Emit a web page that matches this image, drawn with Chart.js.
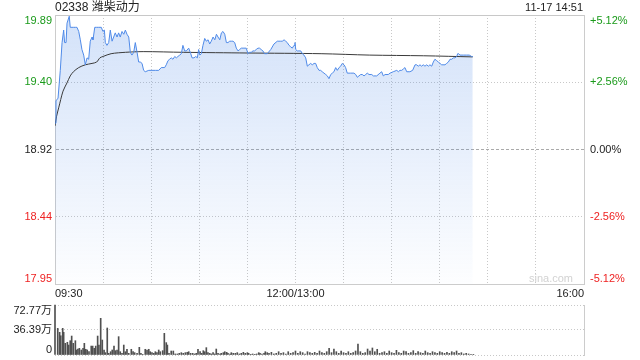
<!DOCTYPE html>
<html>
<head>
<meta charset="utf-8">
<script src="https://cdn.jsdelivr.net/npm/chart.js@4.4.1/dist/chart.umd.min.js"></script>
<style>
  body { margin: 0; background: #fff; width: 640px; height: 360px; overflow: hidden; position: relative;
         font-family: "Liberation Sans", Arial, "Noto Sans CJK SC", sans-serif; }
  #mainBox { position: absolute; left: 0; top: 0; width: 640px; height: 300px; }
  #volBox { position: absolute; left: 0; top: 300px; width: 640px; height: 60px; }
  #title { position: absolute; left: 55px; top: 0px; font-size: 12px; line-height: 14px; color: #222; }
  #stamp { position: absolute; right: 57px; top: 1px; font-size: 11px; line-height: 13px; color: #222; }
  #mark { position: absolute; right: 67px; top: 272px; font-size: 11px; color: #d2d2d2; }
</style>
</head>
<body>
<div id="mainBox"><canvas id="priceChart" width="640" height="300"></canvas></div>
<div id="volBox"><canvas id="volChart" width="640" height="60"></canvas></div>
<div id="title">02338 潍柴动力</div>
<div id="stamp">11-17 14:51</div>
<div id="mark">sina.com</div>
<script>
// minutes since 09:30 (lunch break squeezed out, 150 = 12:00/13:00, 330 = 16:00)
const preClose = 18.92;
const priceTicks = [17.9513, 18.4356, 18.92, 19.4044, 19.8887];
const leftTickLabels = ['17.95', '18.44', '18.92', '19.40', '19.89'];
const rightTickLabels = ['-5.12%', '-2.56%', '0.00%', '+2.56%', '+5.12%'];
const xGridTimes = [0, 30, 60, 90, 120, 150, 180, 210, 240, 270, 300, 330];
const xTickTimes = [0, 150, 330];
const xTickLabels = ['09:30', '12:00/13:00', '16:00'];

const priceTimes = [0, 0.6, 1.9, 3.3, 4.4, 5.4, 6.0, 6.9, 7.5, 8.9, 9.5, 10.6, 11.7, 12.7, 13.7, 14.8, 15.8, 16.8, 17.9, 18.9,
  20.0, 21.0, 22.0, 23.1, 23.7, 24.8, 25.8, 27.3, 28.9, 29.9, 30.8, 31.4, 32.4, 33.5, 34.5, 35.6, 36.6, 37.6, 38.7, 39.7,
  40.7, 41.8, 42.9, 43.9, 44.9, 46.0, 47.0, 48.0, 49.1, 50.1, 51.2, 52.2, 53.2, 54.3, 55.3, 56.3, 58.5, 60.5, 62.6, 64.7,
  66.3, 68.4, 69.4, 70.5, 71.5, 72.5, 73.6, 74.7, 75.7, 76.7, 77.8, 78.8, 79.8, 80.9, 81.9, 83.4, 84.7, 85.5, 86.7, 87.8,
  88.8, 89.6, 90.4, 91.3, 92.3, 93.4, 94.4, 95.5, 96.5, 97.5, 98.6, 99.7, 100.7, 101.7, 102.8, 103.8, 104.8, 105.9, 106.9, 107.9,
  109.0, 110.0, 111.0, 112.1, 113.1, 114.2, 115.2, 116.2, 117.3, 119.3, 120.4, 121.4, 122.4, 123.5, 124.5, 125.5, 126.6, 127.6, 128.6, 129.7,
  130.7, 132.4, 134.6, 136.6, 138.7, 139.7, 140.8, 141.8, 142.9, 143.9, 144.9, 146.0, 147.0, 148.0, 149.1, 149.7, 150.2, 151.1, 152.2, 153.3,
  154.3, 155.3, 156.4, 157.4, 158.4, 159.5, 160.5, 161.6, 162.6, 163.6, 164.7, 165.7, 166.7, 167.8, 168.9, 169.9, 170.9, 172.0, 173.0, 174.0,
  175.1, 176.1, 177.2, 178.2, 179.2, 180.3, 181.3, 182.3, 184.5, 186.5, 187.6, 188.6, 189.6, 190.7, 191.7, 192.8, 193.8, 194.8, 195.9, 197.6,
  198.6, 200.7, 202.7, 203.8, 204.8, 205.9, 207.9, 209.0, 211.0, 213.2, 214.2, 215.2, 216.3, 217.3, 218.3, 219.4, 221.4, 223.1, 224.6, 225.6,
  226.6, 227.7, 228.7, 229.7, 230.8, 231.9, 232.9, 233.9, 235.0, 236.0, 237.0, 238.1, 239.1, 240.2, 241.2, 243.3, 244.3, 245.4, 246.4, 247.5,
  248.5, 249.5, 250.6, 251.2, 251.8, 252.6, 254.7, 256.8, 258.4, 259.9, 260.6];
const prices = [19.11, 19.27, 19.29, 19.49, 19.69, 19.78, 19.69, 19.69, 19.83, 19.88, 19.80, 19.80, 19.80, 19.80, 19.80, 19.77, 19.71, 19.64, 19.60, 19.53,
  19.58, 19.57, 19.70, 19.73, 19.71, 19.80, 19.80, 19.80, 19.80, 19.77, 19.78, 19.69, 19.67, 19.69, 19.78, 19.70, 19.73, 19.76, 19.73, 19.76,
  19.73, 19.77, 19.75, 19.78, 19.75, 19.73, 19.62, 19.60, 19.62, 19.69, 19.62, 19.55, 19.55, 19.54, 19.49, 19.48, 19.49, 19.49, 19.49, 19.49,
  19.51, 19.51, 19.53, 19.56, 19.57, 19.58, 19.57, 19.59, 19.58, 19.59, 19.60, 19.61, 19.67, 19.63, 19.63, 19.65, 19.61, 19.58, 19.58, 19.59,
  19.58, 19.64, 19.60, 19.61, 19.67, 19.72, 19.70, 19.71, 19.68, 19.70, 19.73, 19.71, 19.75, 19.73, 19.71, 19.76, 19.77, 19.75, 19.69, 19.69,
  19.70, 19.70, 19.70, 19.69, 19.65, 19.63, 19.64, 19.65, 19.65, 19.65, 19.61, 19.62, 19.62, 19.63, 19.63, 19.64, 19.65, 19.65, 19.64, 19.63,
  19.61, 19.61, 19.64, 19.68, 19.70, 19.70, 19.70, 19.70, 19.71, 19.70, 19.69, 19.67, 19.66, 19.65, 19.67, 19.69, 19.64, 19.63, 19.63, 19.63,
  19.61, 19.60, 19.58, 19.52, 19.53, 19.54, 19.53, 19.54, 19.54, 19.51, 19.49, 19.49, 19.48, 19.47, 19.46, 19.45, 19.43, 19.46, 19.47, 19.48,
  19.51, 19.49, 19.51, 19.52, 19.54, 19.53, 19.51, 19.47, 19.47, 19.47, 19.46, 19.44, 19.45, 19.46, 19.46, 19.45, 19.46, 19.47, 19.46, 19.46,
  19.45, 19.45, 19.47, 19.48, 19.45, 19.46, 19.46, 19.47, 19.48, 19.49, 19.48, 19.49, 19.49, 19.50, 19.51, 19.48, 19.48, 19.49, 19.53, 19.53,
  19.52, 19.53, 19.52, 19.53, 19.52, 19.53, 19.52, 19.53, 19.52, 19.55, 19.57, 19.56, 19.55, 19.54, 19.53, 19.53, 19.54, 19.55, 19.57, 19.57,
  19.58, 19.58, 19.59, 19.61, 19.61, 19.60, 19.60, 19.60, 19.60, 19.59, 19.59];

const avgTimes = [0, 1, 2.3, 5, 7.5, 9.5, 11.5, 14.8, 18.9, 23.1, 26, 28, 30, 35, 44, 55, 80, 120, 166, 196, 230, 260.6];
const avgPrices = [19.09, 19.16, 19.22, 19.34, 19.40, 19.45, 19.48, 19.51, 19.53, 19.54, 19.55, 19.58, 19.59, 19.61, 19.62, 19.625,
  19.62, 19.615, 19.61, 19.60, 19.595, 19.587];

// volume, in 万 shares
const volTicks = [0, 36.39, 72.77];
const volTickLabels = ['0', '36.39万', '72.77万'];
const volTimes = [0, 1.7, 2.9, 3.6, 4.8, 5.4, 6.4, 7.7, 8.5, 9.5, 10.4, 11.4, 12.7, 13.3, 14.3, 15.2, 16.4, 17.5, 18.3, 19.2,
  20.1, 21.2, 22.6, 23.5, 24.5, 25.4, 26.6, 27.4, 28.5, 29.5, 30.6, 31.4, 32.6, 33.5, 34.7, 35.7, 36.8, 37.6, 38.7, 39.7,
  40.7, 41.8, 42.9, 43.9, 44.9, 46.0, 47.6, 48.7, 49.7, 51.2, 52.6, 53.6, 54.7, 56.3, 57.4, 58.5, 59.4, 60.5, 61.6, 62.6,
  63.6, 64.7, 65.7, 67.2, 68.2, 69.4, 70.1, 71.1, 72.5, 73.8, 75.0, 76.3, 77.5, 78.8, 80.0, 81.3, 82.5, 83.4, 84.6, 85.9,
  87.1, 88.1, 89.2, 90.5, 91.5, 92.5, 93.4, 94.4, 95.4, 96.5, 97.5, 98.6, 99.6, 100.6, 101.7, 102.9, 103.7, 105.0, 105.9, 107.1,
  107.9, 109.2, 110.0, 111.2, 112.5, 113.7, 115.0, 116.2, 117.5, 118.7, 120.0, 120.8, 122.1, 123.3, 124.6, 125.8, 127.1, 127.9, 129.1, 130.4,
  131.2, 132.4, 133.5, 135, 136.5, 138, 139.5, 141, 142.5, 144, 145.5, 147, 148.5, 150, 151.5, 153, 154.5, 156, 157.5, 159,
  160.5, 162, 163.5, 165, 166.5, 168, 169.5, 171, 172.5, 174, 175.5, 177, 178.5, 180, 181.5, 183, 184.5, 186, 187.5, 189,
  190.5, 192, 193.5, 195, 196.5, 198, 199.5, 201, 202.5, 204, 205.5, 207, 208.5, 210, 211.5, 213, 214.5, 216, 217.5, 219,
  220.5, 222, 223.5, 225, 226.5, 228, 229.5, 231, 232.5, 234, 235.5, 237, 238.5, 240, 241.5, 243, 244.5, 246, 247.5, 249,
  250.5, 252, 253.5, 255, 256.5, 258, 259.5, 261];
const volumes = [72.77, 38.8, 33, 28, 38.8, 33, 17, 18.5, 14.5, 20.8, 27.6, 17, 20.8, 7.3, 8.7, 9.7, 7.3, 9.7, 17, 8.3,
  7.3, 4.8, 13, 13, 9.7, 13, 27.6, 14.5, 53.4, 21.8, 7.3, 3.4, 39.3, 2.4, 4.8, 7.3, 13, 6.3, 7.3, 26.7,
  4.8, 2.4, 14.5, 4.8, 8.3, 2.4, 8.3, 4.8, 3.4, 2.4, 11.2, 2.4, 1, 8.3, 7.3, 8.3, 4.8, 3.4, 2.4, 4.8,
  3.4, 7.3, 4.8, 6.3, 31.5, 18, 14.5, 2.4, 5.8, 5.8, 1.5, 1.5, 2.4, 3.4, 2.4, 3.4, 3.9, 4.8, 2.4, 2.4,
  1.5, 2.4, 8.3, 4.8, 2.4, 6.3, 4.8, 10.7, 3.4, 2.4, 1.5, 3.4, 1.5, 8.7, 2.4, 1.5, 2.4, 3.4, 4.8, 3.9,
  2.4, 1.5, 3.4, 2.4, 2.4, 3.4, 1.5, 2.4, 3.9, 2.4, 3.4, 2.4, 1, 1.5, 1, 1.5, 3.4, 2.4, 1.5, 2.4,
  4.8, 3.4, 2.4, 3.9, 1.5, 2.4, 4.8, 2.4, 3.4, 1.5, 4.8, 2.4, 3.4, 5.8, 2.4, 4.8, 3.4, 1.5, 4.8, 3.4,
  2.4, 3.9, 2.4, 5.8, 3.4, 2.4, 4.8, 9.7, 3.4, 8.7, 4.8, 2.4, 5.8, 3.4, 2.4, 4.8, 2.4, 3.4, 5.8, 16,
  4.8, 2.4, 3.4, 8.7, 5.8, 10.2, 4.8, 8.3, 2.4, 3.4, 4.8, 2.4, 5.8, 3.4, 2.4, 6.8, 3.4, 2.4, 5.8, 4.8,
  2.4, 3.4, 6.3, 2.4, 4.8, 3.4, 2.4, 5.8, 3.4, 2.4, 4.8, 3.4, 2.4, 4.8, 3.4, 2.4, 3.9, 2.4, 4.8, 3.4,
  5.8, 2.4, 3.4, 1.5, 2.4, 1.5, 1, 1];

const fontFamily = '"Liberation Sans", Arial, "Noto Sans CJK SC", sans-serif';
const upColor = '#1a9a1a';
const downColor = '#ee2222';
const flatColor = '#222';

function tickColor(v) {
  if (v > preClose + 0.001) return upColor;
  if (v < preClose - 0.001) return downColor;
  return flatColor;
}

// push the end labels inward, like the original
function innerLabel(text, i, n) {
  if (i === 0) return [text, ''];
  if (i === n - 1) return ['', text];
  return text;
}

// fixed axis sizes so the plot box lands where the original one is
function fixWidth(w) {
  return (s) => { s.width = w; s.paddingTop = 0; s.paddingBottom = 0; };
}

const priceCanvas = document.getElementById('priceChart');
new Chart(priceCanvas.getContext('2d'), {
  type: 'line',
  data: {
    datasets: [{
      data: priceTimes.map((t, i) => ({ x: t, y: prices[i] })),
      borderColor: '#4f8ae8',
      borderWidth: 1,
      pointRadius: 0,
      tension: 0,
      fill: 'start',
      backgroundColor: (c) => {
        const area = c.chart.chartArea;
        if (!area) return 'rgba(79,138,232,0.2)';
        const g = c.chart.ctx.createLinearGradient(0, area.top, 0, area.bottom);
        g.addColorStop(0, 'rgba(79,138,232,0.25)');
        g.addColorStop(1, 'rgba(79,138,232,0.01)');
        return g;
      }
    }, {
      data: avgTimes.map((t, i) => ({ x: t, y: avgPrices[i] })),
      borderColor: '#3a3a3a',
      borderWidth: 1,
      pointRadius: 0,
      tension: 0.3,
      fill: false
    }]
  },
  options: {
    responsive: false,
    animation: false,
    layout: { padding: { top: 15 } },
    plugins: {
      legend: { display: false },
      tooltip: { enabled: false },
      filler: { drawTime: 'beforeDatasetsDraw' }
    },
    scales: {
      x: {
        type: 'linear',
        min: 0,
        max: 330,
        afterBuildTicks: (s) => { s.ticks = xGridTimes.map(v => ({ value: v })); },
        afterFit: (s) => { s.height = 16; s.paddingLeft = 0; s.paddingRight = 0; },
        ticks: {
          autoSkip: false,
          maxRotation: 0,
          align: 'inner',
          padding: 3,
          color: '#222',
          font: { family: fontFamily, size: 11 },
          callback: (v) => {
            const i = xTickTimes.indexOf(v);
            return i >= 0 ? xTickLabels[i] : '';
          }
        },
        grid: { color: '#c8c8c8', drawTicks: false },
        border: { color: '#cccccc', dash: [1, 2] }
      },
      y: {
        position: 'left',
        min: priceTicks[0],
        max: priceTicks[priceTicks.length - 1],
        afterBuildTicks: (s) => { s.ticks = priceTicks.map(v => ({ value: v })); },
        afterFit: fixWidth(55),
        ticks: {
          autoSkip: false,
          padding: 3,
          font: { family: fontFamily, size: 11, lineHeight: 1 },
          color: (c) => tickColor(c.tick.value),
          callback: (v, i) => innerLabel(leftTickLabels[i], i, leftTickLabels.length)
        },
        grid: {
          drawTicks: false,
          color: (c) => (c.tick && Math.abs(c.tick.value - preClose) < 0.001) ? '#aaaaaa' : '#c8c8c8'
        },
        border: {
          color: '#cccccc',
          dash: (c) => {
            if (!c.tick) return [];
            if (Math.abs(c.tick.value - preClose) < 0.001) return [3, 2];
            if (c.index === priceTicks.length - 1) return [];
            return [1, 2];
          }
        }
      },
      y2: {
        position: 'right',
        min: priceTicks[0],
        max: priceTicks[priceTicks.length - 1],
        afterBuildTicks: (s) => { s.ticks = priceTicks.map(v => ({ value: v })); },
        afterFit: fixWidth(56),
        ticks: {
          autoSkip: false,
          padding: 6,
          font: { family: fontFamily, size: 11, lineHeight: 1 },
          color: (c) => tickColor(c.tick.value),
          callback: (v, i) => innerLabel(rightTickLabels[i], i, rightTickLabels.length)
        },
        grid: { display: false, drawTicks: false },
        border: { color: '#cccccc' }
      }
    }
  }
});

const volCanvas = document.getElementById('volChart');
new Chart(volCanvas.getContext('2d'), {
  type: 'bar',
  data: {
    datasets: [{
      data: volTimes.map((t, i) => ({ x: t, y: volumes[i] })),
      backgroundColor: '#505050',
      barThickness: 1,
      clip: false
    }]
  },
  options: {
    responsive: false,
    animation: false,
    layout: { padding: { top: 5, bottom: 5 } },
    plugins: { legend: { display: false }, tooltip: { enabled: false } },
    scales: {
      x: { type: 'linear', min: 0, max: 330, offset: false, display: false },
      y: {
        position: 'left',
        min: 0,
        max: volTicks[volTicks.length - 1],
        afterBuildTicks: (s) => { s.ticks = volTicks.map(v => ({ value: v })); },
        afterFit: fixWidth(55),
        ticks: {
          autoSkip: false,
          padding: 3,
          color: '#222',
          font: { family: fontFamily, size: 11, lineHeight: 1 },
          callback: (v, i) => innerLabel(volTickLabels[i], i, volTickLabels.length)
        },
        grid: { color: '#c8c8c8', drawTicks: false },
        border: { display: false, dash: [1, 2] }
      },
      y2: {
        position: 'right',
        min: 0,
        max: volTicks[volTicks.length - 1],
        afterFit: fixWidth(56),
        ticks: { display: false },
        grid: { display: false, drawTicks: false },
        border: { color: '#cccccc' }
      }
    }
  }
});
</script>
</body>
</html>
